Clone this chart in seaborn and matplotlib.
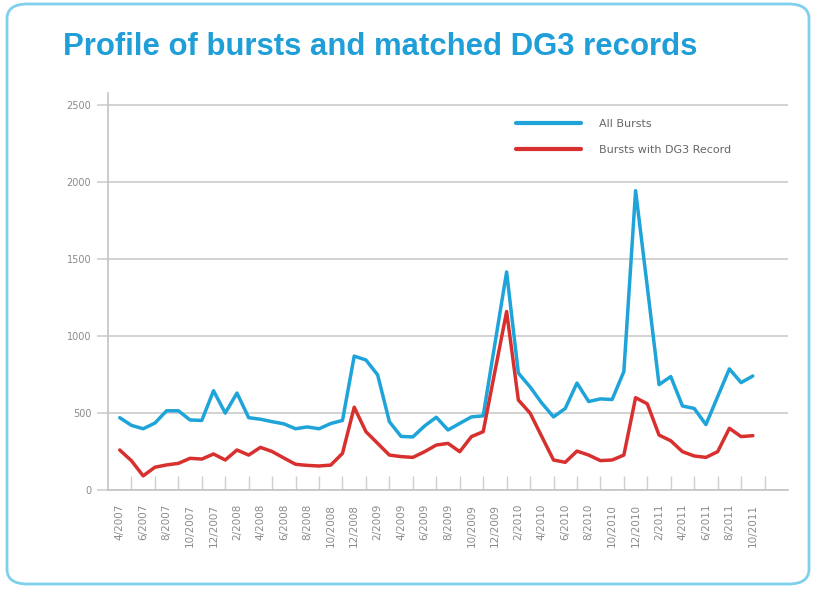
import matplotlib
matplotlib.use("Agg")
import matplotlib.pyplot as plt
import pandas as pd
import seaborn as sns
from matplotlib.patches import FancyBboxPatch

# Monthly categories, April 2007 to October 2011
months = [
    "4/2007", "5/2007", "6/2007", "7/2007", "8/2007", "9/2007", "10/2007", "11/2007", "12/2007",
    "1/2008", "2/2008", "3/2008", "4/2008", "5/2008", "6/2008", "7/2008", "8/2008", "9/2008",
    "10/2008", "11/2008", "12/2008",
    "1/2009", "2/2009", "3/2009", "4/2009", "5/2009", "6/2009", "7/2009", "8/2009", "9/2009",
    "10/2009", "11/2009", "12/2009",
    "1/2010", "2/2010", "3/2010", "4/2010", "5/2010", "6/2010", "7/2010", "8/2010", "9/2010",
    "10/2010", "11/2010", "12/2010",
    "1/2011", "2/2011", "3/2011", "4/2011", "5/2011", "6/2011", "7/2011", "8/2011", "9/2011",
    "10/2011",
]

all_bursts = [
    470, 420, 398, 435, 515, 515, 455, 452, 645,
    500, 630, 470, 460, 444, 430, 398, 410, 398, 432, 452, 870,
    845, 748, 444, 348, 345, 416, 473, 390, 433, 475, 482, 950,
    1417, 760, 670, 565, 475, 530, 695, 575, 592, 588, 770, 1945,
    1320, 685, 737, 546, 530, 425, 607, 787, 698, 741,
]

dg3_bursts = [
    260, 190, 92, 148, 163, 173, 206, 201, 234,
    195, 260, 227, 277, 250, 208, 167, 160, 156, 162, 238, 538,
    379, 303, 227, 217, 212, 249, 292, 303, 249, 347, 379, 770,
    1160, 585, 500, 347, 195, 180, 253, 227, 191, 195, 227, 600,
    560, 357, 320, 249, 221, 212, 249, 401, 347, 353,
]

series_names = ["All Bursts", "Bursts with DG3 Record"]
series_colors = ["#1ea4d8", "#d8302e"]
y_ticks = [0, 500, 1000, 1500, 2000, 2500]

df = pd.concat([
    pd.DataFrame({"idx": range(len(months)), "value": all_bursts, "series": series_names[0]}),
    pd.DataFrame({"idx": range(len(months)), "value": dg3_bursts, "series": series_names[1]}),
])

sns.set_theme(style="white")
plt.rcParams["font.family"] = ["DejaVu Sans"]

fig = plt.figure(figsize=(8.16, 5.92), dpi=100)
ax = fig.add_axes([108 / 816, 1 - 490 / 592, 680 / 816, (490 - 93) / 592])

sns.lineplot(data=df, x="idx", y="value", hue="series",
             palette=dict(zip(series_names, series_colors)),
             linewidth=2.5, ax=ax)

ax.set_xlim(-1, 57)
ax.set_ylim(0, 2580)
ax.set_yticks(y_ticks)
ax.set_yticklabels([str(v) for v in y_ticks])
ax.yaxis.grid(True, color="#cfcfcf", linewidth=1.3)
ax.set_axisbelow(True)

# labels on even months, tick marks on odd months
label_pos = list(range(0, len(months), 2))
ax.set_xticks(label_pos)
ax.set_xticklabels([months[i] for i in label_pos], rotation=90)
ax.set_xticks(list(range(1, len(months) + 2, 2)), minor=True)
ax.tick_params(axis="x", which="major", length=0, pad=10, labelsize=7.5, labelcolor="#8a8a8a")
ax.tick_params(axis="x", which="minor", direction="in", length=10, width=1, color="#cfcfcf", bottom=True)
ax.tick_params(axis="y", which="major", left=True, length=8, width=1.2, color="#cfcfcf",
               pad=4, labelsize=7, labelcolor="#8a8a8a")

for side in ["top", "right"]:
    ax.spines[side].set_visible(False)
for side in ["left", "bottom"]:
    ax.spines[side].set_color("#c4c4c4")
    ax.spines[side].set_linewidth(1.2)

ax.set_xlabel("")
ax.set_ylabel("")

leg = ax.legend(loc="upper left", bbox_to_anchor=(0.585, 0.96), frameon=False,
                fontsize=8, handlelength=5.9, handletextpad=1.6, labelspacing=1.45)
for text in leg.get_texts():
    text.set_color("#666666")
for line in leg.get_lines():
    line.set_linewidth(3)

fig.text(63 / 816, 1 - 47 / 592, "Profile of bursts and matched DG3 records",
         fontsize=22.4, fontweight="bold", color="#1f9ed8", va="center", ha="left",
         family=["Liberation Sans", "DejaVu Sans"])

frame = FancyBboxPatch((7 / 816, 8 / 592), 802 / 816, 580 / 592,
                       boxstyle="round,pad=0,rounding_size=0.025",
                       transform=fig.transFigure, facecolor="none",
                       edgecolor="#7fd0ec", linewidth=2, zorder=-1)
fig.patches.append(frame)

fig.savefig("out.png", dpi=100)
